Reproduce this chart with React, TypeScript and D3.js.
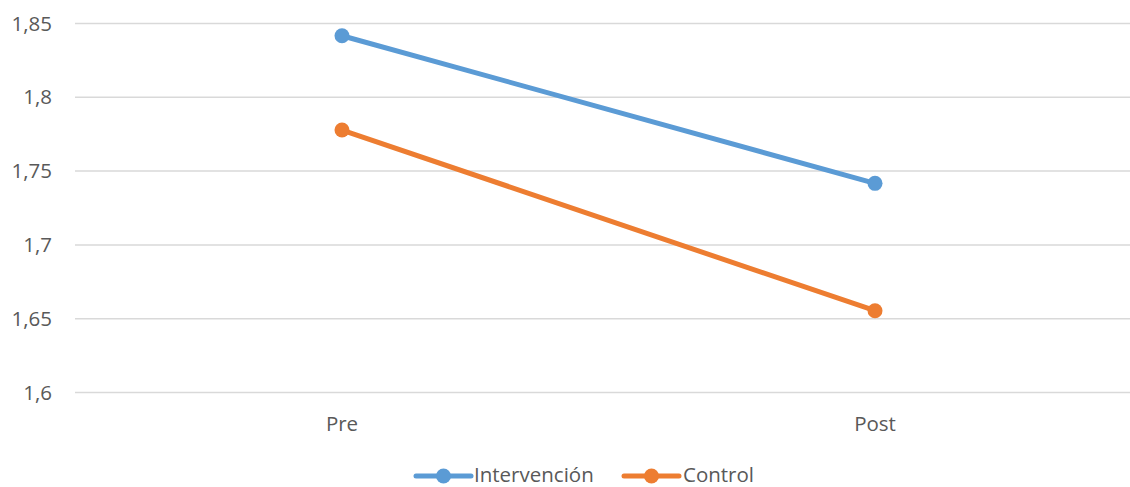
import React from "react";
import * as d3 from "d3";

const categories = ["Pre", "Post"];
const intervencion = [1.8417, 1.7417];
const control = [1.7778, 1.6554];
const yTicks = [1.6, 1.65, 1.7, 1.75, 1.8, 1.85];

const seriesList = [
  { name: "Intervención", values: intervencion, color: "#5B9BD5" },
  { name: "Control", values: control, color: "#ED7D31" },
];

const W = 1130;
const H = 487;
const FONT = "'Open Sans', Lato, sans-serif";
const FS = 20.5;
const LEGEND_Y = 475;

export default function App() {
  const x = d3.scaleBand<string>().domain(categories).range([75.5, 1141.5]);
  const y = d3.scaleLinear().domain([1.6, 1.85]).range([392.5, 23.5]);
  const cx = (c: string) => (x(c) ?? 0) + x.bandwidth() / 2;
  const line = d3
    .line<number>()
    .x((_, i) => cx(categories[i]))
    .y((d) => y(d));
  const fmt = (v: number) => d3.format("~g")(v).replace(".", ",");

  const legendItems = [
    { lineX: 416, textX: 474 },
    { lineX: 624, textX: 683 },
  ];

  return (
    <svg
      width={W}
      height={H}
      style={{ position: "absolute", left: 0, top: 0, background: "#fff" }}
      fontFamily={FONT}
    >
      <g>
        {yTicks.map((t) => (
          <g key={t}>
            <line x1={75} x2={W} y1={y(t)} y2={y(t)} stroke="#D9D9D9" strokeWidth={1.5} />
            <text
              x={52}
              y={y(t)}
              dy="0.35em"
              textAnchor="end"
              fontSize={FS}
              fill="#595959"
            >
              {fmt(t)}
            </text>
          </g>
        ))}
      </g>
      {categories.map((c) => (
        <text
          key={c}
          x={cx(c)}
          y={424}
          dy="0.35em"
          textAnchor="middle"
          fontSize={FS}
          fill="#595959"
        >
          {c}
        </text>
      ))}
      {seriesList.map((s) => (
        <g key={s.name}>
          <path
            d={line(s.values) ?? ""}
            fill="none"
            stroke={s.color}
            strokeWidth={5}
            strokeLinecap="round"
          />
          {s.values.map((v, i) => (
            <circle key={i} cx={cx(categories[i])} cy={y(v)} r={7.5} fill={s.color} />
          ))}
        </g>
      ))}
      {seriesList.map((s, i) => {
        const li = legendItems[i];
        return (
          <g key={s.name}>
            <line
              x1={li.lineX}
              x2={li.lineX + 55}
              y1={LEGEND_Y + 1}
              y2={LEGEND_Y + 1}
              stroke={s.color}
              strokeWidth={5}
              strokeLinecap="round"
            />
            <circle cx={li.lineX + 27.5} cy={LEGEND_Y + 1} r={7.5} fill={s.color} />
            <text x={li.textX} y={LEGEND_Y} dy="0.35em" fontSize={FS} fill="#595959">
              {s.name}
            </text>
          </g>
        );
      })}
    </svg>
  );
}
